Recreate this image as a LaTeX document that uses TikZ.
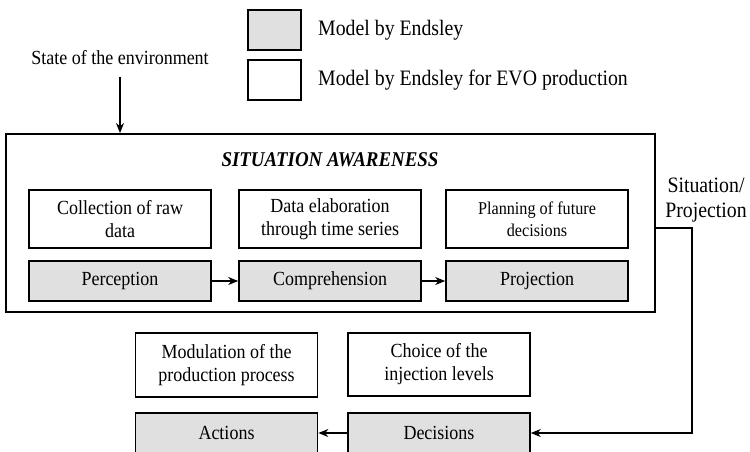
\documentclass[tikz,border=0pt]{standalone}
\usepackage{fontspec}
\setmainfont{Liberation Serif}[FakeStretch=0.9]
\usetikzlibrary{arrows.meta, positioning}

\begin{document}
\begin{tikzpicture}[
    x=0.5pt, y=-0.5pt,
    box/.style={rectangle, draw=black, thick, fill=white, minimum width=91pt, align=center, inner sep=2pt},
    endsley/.style={box, fill=black!12, minimum height=20pt},
    evo/.style={box, minimum height=29pt},
    edge/.style={-{Stealth[length=5pt,width=4pt]}, thick},
    font=\fontsize{10}{11.5}\selectfont
]
\clip (0,0) rectangle (750,451);

% legend
\node[endsley, minimum width=26.5pt] (leg1) at (274.5,30) {};
\node[box, minimum width=26.5pt, minimum height=20pt] (leg2) at (274.5,80) {};
\node[right=8pt of leg1, inner sep=0, font=\fontsize{11}{13}\selectfont] (legtxt1) {Model by Endsley};
\node[right=8pt of leg2, inner sep=0, font=\fontsize{11}{13}\selectfont] (legtxt2) {Model by Endsley for EVO production};

% situation awareness
\node[inner ysep=5.5pt] (env) at (120,58) {State of the environment};
\node[draw=black, line width=1pt, minimum width=324.5pt, minimum height=89pt] (sa) at (330.5,223) {};
\node[font=\fontsize{10.5}{12}\selectfont\bfseries\itshape] (title) at (330,160) {SITUATION AWARENESS};

\node[evo] (col) at (120,219) {Collection of raw\\data};
\node[evo] (elab) at (330,219) {Data elaboration\\through time series};
\node[evo, font=\fontsize{9}{11}\selectfont] (plan) at (537,219) {Planning of future\\decisions};

\node[endsley] (perc) at (120,281) {Perception};
\node[endsley] (comp) at (330,281) {Comprehension};
\node[endsley] (proj) at (537,281) {Projection};

% decisions and actions
\node[evo, minimum height=32pt] (mod) at (226.5,365) {Modulation of the\\production process};
\node[evo, minimum height=31.5pt] (choice) at (439,364.5) {Choice of the\\injection levels};

\node[endsley] (act) at (226.5,433) {Actions};
\node[endsley] (dec) at (439,433) {Decisions};

\node[align=center, font=\fontsize{11}{12.5}\selectfont] (sit) at (706,200) {Situation/\\Projection};
\coordinate (fb) at (692,228);

% arrows
\draw[edge] (env) -- (env |- sa.north);
\draw[edge] (perc) -- (comp);
\draw[edge] (comp) -- (proj);
\draw[edge] (sa.east |- fb) -- (fb) |- (dec.east);
\draw[edge] (dec) -- (act);

\end{tikzpicture}
\end{document}
